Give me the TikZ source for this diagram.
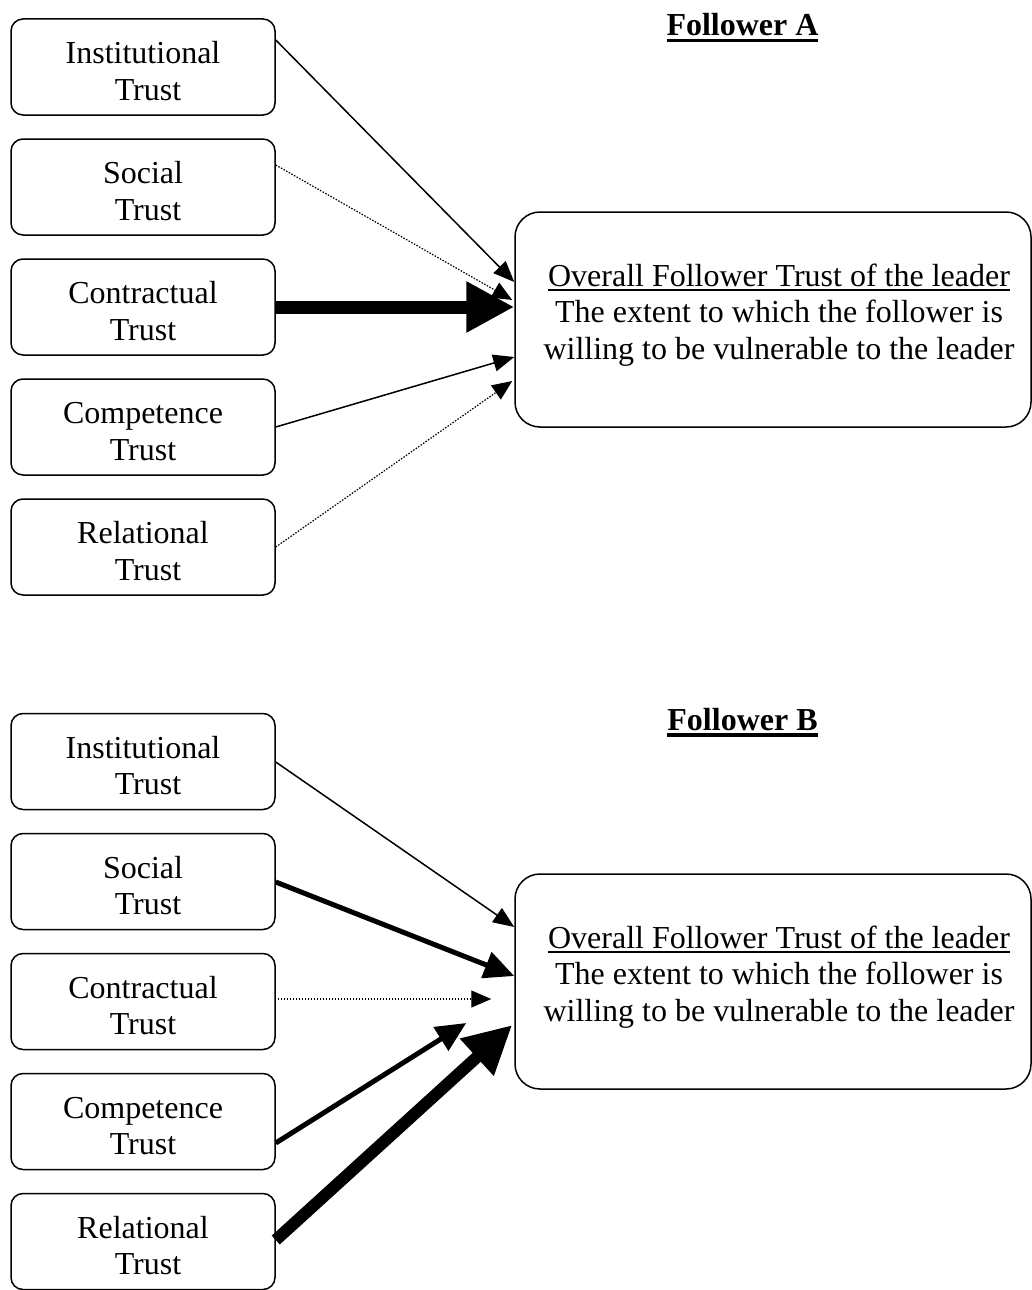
\documentclass[tikz,border=0pt]{standalone}
\usepackage{fontspec}
\setmainfont{Liberation Serif}
\usetikzlibrary{arrows.meta}
\newcommand\ulthin[1]{\setbox0\hbox{#1}\rlap{\rule[-4.5pt]{\wd0}{1.5pt}}\box0}
\newcommand\ulbold[1]{\setbox0\hbox{#1}\rlap{\rule[-6.5pt]{\wd0}{3.5pt}}\box0}
\newcommand\tstrut{\rule{0pt}{30pt}}
\begin{document}
\begin{tikzpicture}[x=1pt,y=-1pt,
  srcbox/.style={draw, line width=1.5pt, rounded corners=12pt, minimum width=264pt,
    minimum height=96pt, align=center, inner sep=0pt, font=\fontsize{32}{36.5}\selectfont},
  tgtbox/.style={draw, line width=1.5pt, rounded corners=25pt, minimum width=516pt, minimum height=215pt},
  tgttxt/.style={align=center, inner sep=0pt, font=\fontsize{32}{36.5}\selectfont},
  ttl/.style={anchor=base, inner sep=0pt, font=\fontsize{32}{36.5}\selectfont\bfseries},
  thinarr/.style={line width=1.5pt, -{Triangle[length=21pt,width=17pt]}},
  dotarr/.style={line width=1.2pt, dash pattern=on 1.5pt off 1.5pt, -{Triangle[length=20pt,width=17pt]}},
  medarr/.style={line width=5pt, -{Triangle[length=30pt,width=27pt]}},
  heavyarr/.style={line width=13pt, -{Triangle[length=48pt,width=48pt]}},
  heavyarrb/.style={line width=12pt, -{Triangle[length=48pt,width=47pt]}}]
\useasboundingbox (0,0) rectangle (1032,1290);

% ---------- Follower A ----------
\node[ttl] (fa) at (742.5,36) {\ulbold{Follower A}};
\node[srcbox] (a1) at (143,67) {\tstrut Institutional\\\hspace*{10pt}Trust};
\node[srcbox] (a2) at (143,187) {\tstrut Social\\\hspace*{10pt}Trust};
\node[srcbox] (a3) at (143,307) {\tstrut Contractual\\Trust};
\node[srcbox] (a4) at (143,427) {\tstrut Competence\\Trust};
\node[srcbox] (a5) at (143,547) {\tstrut Relational\\\hspace*{10pt}Trust};
\node[tgtbox] (ta) at (773,319.5) {};
\node[tgttxt] (tta) at (779,315) {\ulthin{Overall Follower Trust of the leader}\\The extent to which the follower is\\willing to be vulnerable to the leader};

\draw[thinarr] ([yshift=27pt]a1.east) -- ([yshift=37.5pt]ta.west);
\draw[dotarr] ([yshift=22pt]a2.east) -- ([xshift=-2pt,yshift=19.5pt]ta.west);
\draw[heavyarr] (a3.east) -- ([yshift=12.5pt]ta.west);
\draw[thinarr] (a4.east) -- ([yshift=-37.5pt]ta.west);
\draw[dotarr] (a5.east) -- ([xshift=-2pt,yshift=-61.5pt]ta.west);

% ---------- Follower B ----------
\node[ttl] (fb) at (742.5,730) {\ulbold{Follower B}};
\node[srcbox] (b1) at (143,761.5) {\tstrut Institutional\\\hspace*{10pt}Trust};
\node[srcbox] (b2) at (143,881.5) {\tstrut Social\\\hspace*{10pt}Trust};
\node[srcbox] (b3) at (143,1001.5) {\tstrut Contractual\\Trust};
\node[srcbox] (b4) at (143,1121.5) {\tstrut Competence\\Trust};
\node[srcbox] (b5) at (143,1241.5) {\tstrut Relational\\\hspace*{10pt}Trust};
\node[tgtbox] (tb) at (773,981.5) {};
\node[tgttxt] (ttb) at (779,977) {\ulthin{Overall Follower Trust of the leader}\\The extent to which the follower is\\willing to be vulnerable to the leader};

\draw[thinarr] ([yshift=-0.5pt]b1.east) -- ([yshift=54.5pt]tb.west);
\draw[medarr] ([yshift=-0.5pt]b2.east) -- ([yshift=5.5pt]tb.west);
\draw[dotarr] ([xshift=2pt,yshift=2.5pt]b3.east) -- ([xshift=-23pt,yshift=-17.5pt]tb.west);
\draw[medarr] ([yshift=-21.5pt]b4.east) -- ([xshift=-48pt,yshift=-41.5pt]tb.west);
\draw[heavyarrb] ([yshift=1.5pt]b5.east) -- ([xshift=-2pt,yshift=-43.5pt]tb.west);
\end{tikzpicture}
\end{document}
